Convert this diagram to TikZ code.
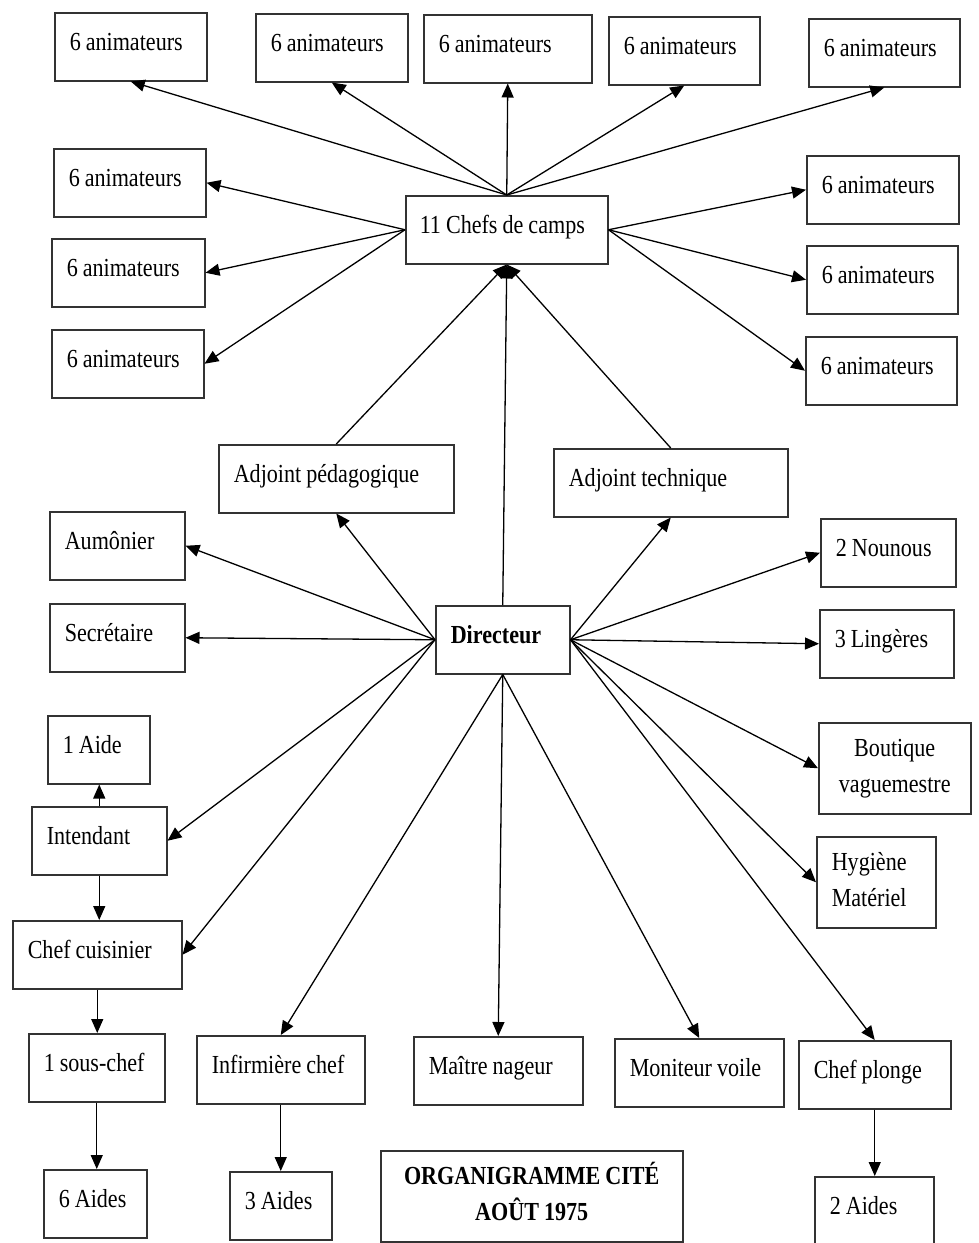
\documentclass[tikz,border=0pt]{standalone}
\usepackage{fontspec}
\setmainfont{Liberation Serif}[FakeStretch=0.85]
\usepackage{tikz}
\usetikzlibrary{arrows.meta,calc,positioning}

\begin{document}
\begin{tikzpicture}[
    x=1pt, y=-1pt,
    >={Triangle[length=14pt,width=12pt]},
    box/.style  = {draw=black!80, line width=1.5pt, anchor=north west,
                   align=flush left, inner xsep=15pt, inner ysep=18pt,
                   text height=20pt, text depth=12pt,
                   font=\fontsize{26}{36}\selectfont,
                   execute at begin node={\spaceskip=5pt\relax}},
    twoline/.style = {inner ysep=14pt, text depth=43pt},
    trans/.style = {line width=1.3pt,->}
  ]

  \useasboundingbox (0,0) rectangle (978,1243);

  % animateurs
  \node[box, text width=122pt] (an1) at (54,12)  {6 animateurs};
  \node[box, text width=122pt] (an2) at (255,13) {6 animateurs};
  \node[box, text width=138pt] (an3) at (423,14) {6 animateurs};
  \node[box, text width=121pt] (an4) at (608,16) {6 animateurs};
  \node[box, text width=121pt] (an5) at (808,18) {6 animateurs};

  \node[box, text width=122pt] (an6) at (53,148) {6 animateurs};
  \node[box, text width=123pt] (an7) at (51,238) {6 animateurs};
  \node[box, text width=122pt] (an8) at (51,329) {6 animateurs};

  \node[box, text width=122pt] (an9)  at (806,155) {6 animateurs};
  \node[box, text width=121pt] (an10) at (806,245) {6 animateurs};
  \node[box, text width=121pt] (an11) at (805,336) {6 animateurs};

  \node[box, text width=174pt, inner xsep=14pt] (chefs) at (405,195) {11 Chefs de camps};

  % direction
  \node[box, text width=205pt] (adjped)  at (218,444) {Adjoint pédagogique};
  \node[box, text width=204pt] (adjtech) at (553,448) {Adjoint technique};
  \node[box, text width=104pt, font=\fontsize{26}{36}\selectfont\bfseries] (dir) at (435,605) {Directeur};

  \node[box, text width=105pt] (aum)  at (49,511) {Aumônier};
  \node[box, text width=105pt] (secr) at (49,603) {Secrétaire};

  \node[box, text width=105pt] (nounous)  at (820,518) {2 Nounous};
  \node[box, text width=104pt] (lingeres) at (819,609) {3 Lingères};
  \node[box, twoline, text width=122pt, align=flush center] (boutique) at (818,722) {Boutique\\vaguemestre};
  \node[box, twoline, text width=89pt] (hygiene) at (816,836) {Hygiène\\Matériel};

  % cuisine
  \node[box, text width=72pt]  (aide1)     at (47,715)  {1 Aide};
  \node[box, text width=105pt] (intendant) at (31,806)  {Intendant};
  \node[box, text width=139pt] (cuisinier) at (12,920)  {Chef cuisinier};
  \node[box, text width=106pt] (souschef)  at (28,1033) {1 sous-chef};
  \node[box, text width=73pt]  (aides6)    at (43,1169) {6 Aides};

  % bas
  \node[box, text width=138pt] (infirm) at (196,1035) {Infirmière chef};
  \node[box, text width=72pt]  (aides3) at (229,1171) {3 Aides};
  \node[box, text width=139pt] (nageur) at (413,1036) {Maître nageur};
  \node[box, text width=139pt] (voile)  at (614,1038) {Moniteur voile};
  \node[box, text width=122pt] (plonge) at (798,1040) {Chef plonge};
  \node[box, text width=89pt]  (aides2) at (814,1176) {2 Aides};

  \node[box, twoline, text width=272pt, align=flush center,
        font=\fontsize{26}{36}\selectfont\bfseries] (titre) at (380,1150)
        {ORGANIGRAMME CITÉ\\AOÛT 1975};

  % chefs de camps -> animateurs
  \foreach \n in {an1,an2,an3,an4,an5}
    \draw[trans] (chefs.north) -- (\n.south);
  \foreach \n in {an6,an7,an8}
    \draw[trans] (chefs.west) -- (\n.east);
  \foreach \n in {an9,an10,an11}
    \draw[trans] (chefs.east) -- (\n.west);
  \foreach \n in {adjped,dir,adjtech}
    \draw[trans] (\n.north) -- (chefs.south);

  % directeur
  \foreach \n in {aum,secr,intendant,cuisinier}
    \draw[trans] (dir.west) -- (\n.east);
  \draw[trans] (dir.west) -- (adjped.south);
  \foreach \n in {infirm,nageur,voile}
    \draw[trans] (dir.south) -- (\n.north);
  \draw[trans] (dir.east) -- (adjtech.south);
  \foreach \n in {nounous,lingeres,boutique,hygiene}
    \draw[trans] (dir.east) -- (\n.west);
  \draw[trans] (dir.east) -- (plonge.north);

  % liens verticaux
  \draw[trans] (intendant.north) -- (intendant.north |- aide1.south);
  \draw[trans] (intendant.south) -- (intendant.south |- cuisinier.north);
  \draw[trans] (cuisinier.south) -- (cuisinier.south |- souschef.north);
  \draw[trans] (souschef.south)  -- (souschef.south |- aides6.north);
  \draw[trans] (infirm.south)    -- (infirm.south |- aides3.north);
  \draw[trans] (plonge.south)    -- (plonge.south |- aides2.north);

\end{tikzpicture}
\end{document}
